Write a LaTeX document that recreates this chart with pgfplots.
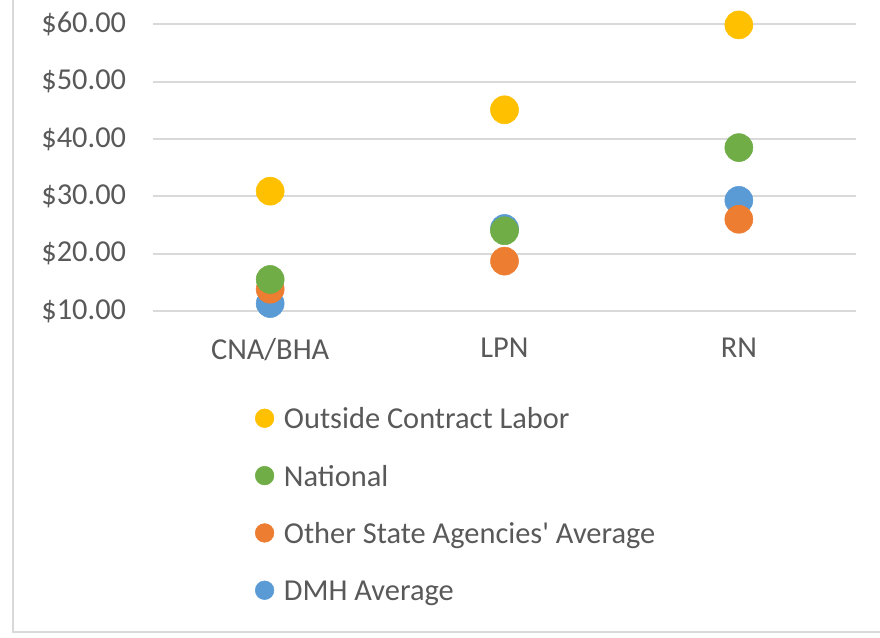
\documentclass[border=0pt]{standalone}
\usepackage{fontspec}
\setmainfont{Carlito}[Ligatures=TeXOff]
\usepackage{pgfplots}
\pgfplotsset{compat=1.18}

\definecolor{txt}{HTML}{595959}
\definecolor{gridc}{HTML}{D9D9D9}
\definecolor{cYellow}{HTML}{FFC000}
\definecolor{cGreen}{HTML}{70AD47}
\definecolor{cOrange}{HTML}{ED7D31}
\definecolor{cBlue}{HTML}{5B9BD5}

\begin{document}
\begin{tikzpicture}
\useasboundingbox (0,0) rectangle (660pt,477.75pt);
% chart area frame (only left and bottom edges are visible)
\draw[gridc, line width=2.2pt] (9.75pt,477.75pt) -- (9.75pt,3.75pt) -- (660pt,3.75pt);

\begin{axis}[
    at={(114.75pt,244.5pt)}, anchor=south west,
    scale only axis,
    width=527.25pt, height=215pt,
    xmin=-0.5, xmax=2.5,
    ymin=10, ymax=60,
    xtick={0,1,2},
    xticklabels={CNA/BHA,LPN,RN},
    ytick={10,20,30,40,50,60},
    yticklabel={\$\pgfmathprintnumber[fixed,fixed zerofill,precision=2]{\tick}},
    /pgf/number format/assume math mode=true,
    font=\fontsize{22.8}{27}\selectfont,
    tick label style={text=txt},
    yticklabel style={inner sep=0pt, anchor=east, xshift=-20pt},
    xticklabel style={inner sep=0pt, anchor=north, yshift=-20pt},
    major tick length=0pt,
    axis line style={draw=none},
    ymajorgrids=true,
    grid style={gridc, line width=1.5pt},
    clip=false,
    reverse legend,
    legend image code/.code={\draw[#1, mark size=7pt] plot coordinates {(0pt,0pt)};},
    legend style={
        at={(0.1451,-0.3267)}, anchor=north west,
        draw=none, fill=none, inner sep=0pt,
        row sep=23pt, column sep=5.5pt,
        font=\fontsize{22.8}{27}\selectfont,
        text=txt,
        nodes={inner sep=2pt, text height=16pt, text depth=0pt},
    },
    legend cell align={left},
]
\addplot[only marks, mark=*, mark size=10.5pt, color=cBlue]
    coordinates {(0,11.3) (1,24.4) (2,29.3)};
\addlegendentry{DMH Average}
\addplot[only marks, mark=*, mark size=10.5pt, color=cOrange]
    coordinates {(0,13.8) (1,18.7) (2,26.0)};
\addlegendentry{Other State Agencies' Average}
\addplot[only marks, mark=*, mark size=10.5pt, color=cGreen]
    coordinates {(0,15.5) (1,24.0) (2,38.5)};
\addlegendentry{National}
\addplot[only marks, mark=*, mark size=10.5pt, color=cYellow]
    coordinates {(0,30.9) (1,45.1) (2,59.9)};
\addlegendentry{Outside Contract Labor}
\end{axis}
\end{tikzpicture}
\end{document}
